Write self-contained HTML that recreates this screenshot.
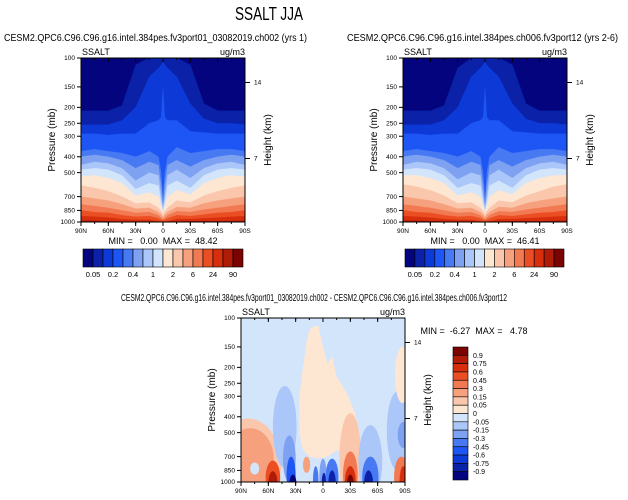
<!DOCTYPE html>
<html><head><meta charset="utf-8"><style>
html,body{margin:0;padding:0;background:#fff;}
svg{display:block;font-family:"Liberation Sans",Helvetica,sans-serif;}
text{white-space:pre;}
</style></head><body>
<svg id="root" width="628" height="500" viewBox="0 0 628 500" xmlns="http://www.w3.org/2000/svg">
<text x="235" y="20" font-size="18" textLength="68" lengthAdjust="spacingAndGlyphs">SSALT JJA</text>
<text x="4" y="41" font-size="10" textLength="303" lengthAdjust="spacingAndGlyphs">CESM2.QPC6.C96.C96.g16.intel.384pes.fv3port01_03082019.ch002 (yrs 1)</text>
<text x="347" y="41" font-size="10" textLength="271" lengthAdjust="spacingAndGlyphs">CESM2.QPC6.C96.C96.g16.intel.384pes.ch006.fv3port12 (yrs 2-6)</text>
<text x="121" y="301" font-size="10" textLength="386" lengthAdjust="spacingAndGlyphs">CESM2.QPC6.C96.C96.g16.intel.384pes.fv3port01_03082019.ch002 - CESM2.QPC6.C96.C96.g16.intel.384pes.ch006.fv3port12</text>
<g id="panels"></g>
</svg>
<script>
// ---------- data ----------
const lats = [90,75,60,45,30,15,5,2,0,-2,-5,-15,-30,-45,-60,-75,-90];
const profA = [
[210,255,290,370,400,450,480,530,600,700,780,850,920,980,1000],
[210,255,290,360,390,430,470,520,620,720,800,870,930,980,1000],
[210,255,295,370,400,440,480,540,650,740,820,880,940,990,1000],
[195,240,290,380,420,470,520,580,700,780,850,910,960,995,1000],
[110,200,290,400,470,560,630,690,770,830,880,930,970,995,1000],
[100,130,250,370,430,500,580,660,760,820,870,920,970,995,1000],
[100,115,240,400,450,520,600,700,820,870,910,950,990,1000,1000],
[100,110,230,500,600,700,760,800,860,900,940,970,1000,1000,1000],
[100,105,150,720,780,820,850,880,910,940,960,980,1000,1000,1000],
[100,110,230,500,600,700,760,800,860,900,940,970,1000,1000,1000],
[100,115,240,400,450,520,600,700,820,870,910,950,990,1000,1000],
[100,130,240,350,420,480,560,640,740,810,860,910,960,995,1000],
[110,190,280,380,460,540,620,680,760,820,870,920,960,990,1000],
[190,235,285,370,420,470,520,580,690,770,840,900,950,990,1000],
[210,250,290,360,400,440,480,540,650,740,820,880,940,990,1000],
[210,250,290,360,390,430,470,520,620,720,800,870,930,985,1000],
[210,255,290,370,400,450,480,530,600,700,780,850,920,980,1000]];
const profB = [
[210,255,290,370,400,450,480,520,590,700,780,850,920,980,1000],
[210,255,290,360,390,430,470,520,610,720,800,870,930,980,1000],
[210,255,295,370,400,440,480,540,640,740,820,880,940,990,1000],
[195,240,290,380,420,470,520,580,690,780,850,910,960,995,1000],
[115,200,290,400,470,550,620,690,770,830,880,930,970,995,1000],
[100,130,250,370,430,500,580,660,760,820,870,920,970,995,1000],
[100,115,240,400,450,520,600,700,820,870,910,950,990,1000,1000],
[100,110,230,500,600,700,760,800,860,900,940,970,1000,1000,1000],
[100,105,150,720,780,820,850,880,910,940,960,980,1000,1000,1000],
[100,110,230,500,600,700,760,800,860,900,940,970,1000,1000,1000],
[100,115,240,400,450,520,600,700,820,870,910,950,990,1000,1000],
[100,130,240,350,420,480,560,640,740,810,860,910,960,995,1000],
[110,190,280,380,460,540,620,680,760,820,870,920,960,990,1000],
[190,235,285,370,420,470,520,580,690,770,840,900,950,990,1000],
[210,250,290,360,400,440,480,540,650,740,820,880,940,990,1000],
[210,250,290,360,390,430,470,520,610,720,800,870,930,985,1000],
[210,255,290,370,400,450,480,520,590,700,780,850,920,980,1000]];
const fullColors = ["#04057e","#0a21a8","#0d3ad6","#1e55f5","#4679f2","#7ea1f2","#abc6f8","#d3e5fa","#fde6d2","#fbc7ac","#f7a07e","#f27a52","#ec4e24","#d72f0e","#b01c08","#7b0403"];
const fullLabels = ["0.05","0.2","0.4","1","2","6","24","90"];
const diffLabels = ["0.9","0.75","0.6","0.45","0.3","0.15","0.05","0","-0.05","-0.15","-0.3","-0.45","-0.6","-0.75","-0.9"];
const creamLat = [18,15,10,5,0,-5,-10,-15,-20,-28,-35,-40,-42,-38,-25,-15,-5,5,15,22,26,26,22];
const creamP   = [140,118,112,112,150,190,170,230,250,300,380,500,650,720,700,640,700,720,700,640,500,300,200];
const blobLat  = [82,80,75,55,55,42,37,35,33,18,8,0,-1,-10,-10,-30,-30,-30,-30,-52,-52,-50,-82,-88,-86,-88,-87];
const blobW    = [36,26,5,8,5,13,7,5,4,4,3,4,2.5,7,4,12,8,6,4,13,9,5,12,6,8,4,8];
const blobTop  = [410,470,760,740,860,260,520,700,900,700,800,720,880,720,850,380,650,800,900,450,700,850,280,430,700,800,150];
const blobBot  = [1500,1100,900,1200,1200,820,1000,1200,1200,880,1200,1200,1200,1200,1200,1400,1250,1250,1250,1250,1250,1250,850,620,1250,1250,330];
const blobC    = [6,5,8,3,1,9,10,12,15,5,11,10,14,11,14,6,4,2,0,9,11,14,9,10,4,2,7];
const diffColors = ["#7b0403","#b01c08","#d72f0e","#ec4e24","#f27a52","#f7a07e","#fbc7ac","#fde6d2","#d3e5fa","#abc6f8","#7ea1f2","#4679f2","#1e55f5","#0d3ad6","#0a21a8","#04057e"];
const latTicks = [90,60,30,0,-30,-60,-90];
const latTickLabels = ["90N","60N","30N","0","30S","60S","90S"];
const pTicks = [100,150,200,250,300,400,500,700,850,1000];
const hTicks = [14,7];
const hTickP = [141,410];

// ---------- drawing ----------
const NS="http://www.w3.org/2000/svg";
const root=document.getElementById('panels');
function mk(tag,attrs,parent){const e=document.createElementNS(NS,tag);for(const k in attrs)e.setAttribute(k,attrs[k]);(parent||root).appendChild(e);return e;}
function axes(x0,y0,w,h){return {x:lat=>x0+(90-lat)/180*w, y:p=>y0+(Math.log10(p)-2)*h};}

function frame(x0,y0,w,h,minmax,mmx,mmy){
  const A=axes(x0,y0,w,h);
  const f=mk('rect',{x:x0,y:y0,width:w,height:h,fill:'none',stroke:'#000','stroke-width':1});
  
  
  latTicks.forEach((l,i)=>{
    const x=A.x(l);
    const t=mk('line',{x1:x,x2:x,y1:y0+h,y2:y0+h+4,stroke:'#000'});
    
    
    mk('line',{x1:x,x2:x,y1:y0,y2:y0+4,stroke:'#000'});
    const tx=mk('text',{x:x,y:y0+h+11,'font-size':6.5,'text-anchor':'middle'});
    tx.textContent=latTickLabels[i];
    
    
  });
  for(let l=75;l>-90;l-=15){const x=A.x(l);mk('line',{x1:x,x2:x,y1:y0+h,y2:y0+h+2,stroke:'#000'});mk('line',{x1:x,x2:x,y1:y0,y2:y0+2,stroke:'#000'});}
  pTicks.forEach(p=>{
    const y=A.y(p);
    mk('line',{x1:x0-4,x2:x0,y1:y,y2:y,stroke:'#000'});
    const tx=mk('text',{x:x0-6,y:y+2.2,'font-size':6.5,'text-anchor':'end'});
    tx.textContent=p;
    
    
  });
  hTicks.forEach((v,i)=>{
    const y=A.y(hTickP[i]);
    mk('line',{x1:x0+w,x2:x0+w+5,y1:y,y2:y,stroke:'#000'});
    const tx=mk('text',{x:x0+w+9,y:y+2.2,'font-size':6.5});
    tx.textContent=v;
    
    
  });
  let t=mk('text',{x:x0+1,y:y0-3,'font-size':9});t.textContent='SSALT';
  
  
  t=mk('text',{x:x0+w,y:y0-3,'font-size':9,'text-anchor':'end'});t.textContent='ug/m3';
  
  
  t=mk('text',{transform:`translate(${x0-26},${y0+h/2}) rotate(-90)`,'font-size':10,'text-anchor':'middle'});t.textContent='Pressure (mb)';
  
  
  t=mk('text',{transform:`translate(${x0+w+26},${y0+h/2}) rotate(-90)`,'font-size':10,'text-anchor':'middle'});t.textContent='Height (km)';
  
  
  t=mk('text',{x:mmx,y:mmy,'font-size':9,'text-anchor':'middle'});t.textContent=minmax;
  
  
}

function fullPanel(x0,y0,w,h,prof,name){
  const A=axes(x0,y0,w,h);
  const g=mk('g',{});
  
  
  mk('rect',{x:x0,y:y0,width:w,height:h,fill:fullColors[0]},g);
  for(let k=0;k<15;k++){
    let d='';
    lats.forEach((l,i)=>{d+=(i?'L':'M')+A.x(l).toFixed(1)+','+A.y(prof[i][k]).toFixed(1);});
    d+=`L${x0+w},${y0+h}L${x0},${y0+h}Z`;
    const p=mk('path',{d:d,fill:fullColors[k+1],stroke:fullColors[k+1],'stroke-width':0.3},g);
    
    
  }
}

function hColorbar(x0,y0,w,h){
  const bw=w/16;
  fullColors.forEach((c,i)=>{
    const r=mk('rect',{x:x0+i*bw,y:y0,width:bw,height:h,fill:c,stroke:'#000','stroke-width':0.6});
    
    
  });
  fullLabels.forEach((s,i)=>{
    const t=mk('text',{x:x0+(2*i+1)*bw,y:y0+h+10,'font-size':7.5,'text-anchor':'middle'});
    t.textContent=s;
    
    
  });
}

fullPanel(81,58,164,164,profA,'left-contour-plot');
frame(81,58,164,164,'MIN =   0.00  MAX =  48.42',163,244);
hColorbar(83,249,160,18);
fullPanel(403,58,164,164,profB,'right-contour-plot');
frame(403,58,164,164,'MIN =   0.00  MAX =  46.41',485,244);
hColorbar(405,249,159,18);

(function(){
  const x0=241,y0=318,w=164,h=164;
  const A=axes(x0,y0,w,h);
  mk('clipPath',{id:'dclip'}).appendChild(document.createElementNS(NS,'rect'));
  const cr=document.querySelector('#dclip rect');cr.setAttribute('x',x0);cr.setAttribute('y',y0);cr.setAttribute('width',w);cr.setAttribute('height',h);
  const g=mk('g',{'clip-path':'url(#dclip)'});
  
  
  mk('rect',{x:x0,y:y0,width:w,height:h,fill:diffColors[8]},g);
  let d='';
  creamLat.forEach((l,i)=>{d+=(i?'L':'M')+A.x(l).toFixed(1)+','+A.y(creamP[i]).toFixed(1);});
  const cp=mk('path',{d:d+'Z',fill:diffColors[7]},g);
  
  
  blobLat.forEach((l,i)=>{
    const cx=A.x(l),rx=blobW[i]/180*w;
    const yt=A.y(blobTop[i]),yb=A.y(blobBot[i]);
    const e=mk('ellipse',{cx:cx,cy:(yt+yb)/2,rx:rx,ry:(yb-yt)/2,fill:diffColors[blobC[i]]},g);
    
    
  });
  frame(x0,y0,w,h,'MIN =  -6.27  MAX =   4.78',474,334);
  const bx=453,by=347,bw=15,bh=133/16;
  diffColors.forEach((c,i)=>{
    const r=mk('rect',{x:bx,y:by+i*bh,width:bw,height:bh,fill:c,stroke:'#000','stroke-width':0.6});
    
    
  });
  diffLabels.forEach((s,i)=>{
    const t=mk('text',{x:bx+bw+5,y:by+(i+1)*bh+2.5,'font-size':7});
    t.textContent=s;
    
    
  });
})();
</script>
</body></html>
